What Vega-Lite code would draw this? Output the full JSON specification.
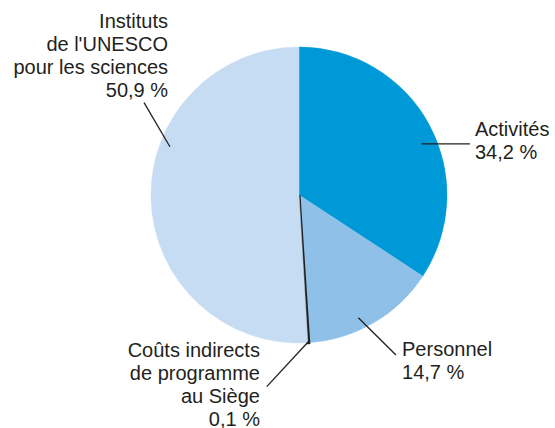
{
  "$schema": "https://vega.github.io/schema/vega-lite/v6.json",
  "width": 512,
  "height": 390,
  "autosize": {"type": "none"},
  "padding": {"left": 43, "top": 0, "right": 0, "bottom": 38},
  "background": "white",
  "config": {"view": {"stroke": null}},
  "datasets": {
    "parts": [
      {"categorie": "Activités", "pourcentage": 34.2, "ordre": 1},
      {"categorie": "Personnel", "pourcentage": 14.7, "ordre": 2},
      {"categorie": "Coûts indirects de programme au Siège", "pourcentage": 0.1, "ordre": 3},
      {"categorie": "Instituts de l'UNESCO pour les sciences", "pourcentage": 50.9, "ordre": 4}
    ],
    "etiquettes": [
      {"texte": "Instituts\nde l'UNESCO\npour les sciences\n50,9 %", "x": -0.885, "y": 1.128, "alignement": "right"},
      {"texte": "Activités\n34,2 %", "x": 1.189, "y": 0.399, "alignement": "left"},
      {"texte": "Personnel\n14,7 %", "x": 0.696, "y": -1.088, "alignement": "left"},
      {"texte": "Coûts indirects\nde programme\nau Siège\n0,1 %", "x": -0.264, "y": -1.093, "alignement": "right"}
    ],
    "traits": [
      {"x": -1.047, "y": 0.624, "x2": -0.872, "y2": 0.326},
      {"x": 0.829, "y": 0.345, "x2": 1.155, "y2": 0.345},
      {"x": 0.401, "y": -0.829, "x2": 0.655, "y2": -1.081},
      {"x": 0.074, "y": -0.980, "x2": -0.218, "y2": -1.295}
    ]
  },
  "layer": [
    {
      "data": {"name": "parts"},
      "mark": {"type": "arc", "outerRadius": 148},
      "encoding": {
        "theta": {"field": "pourcentage", "type": "quantitative", "stack": true},
        "order": {"field": "ordre", "type": "quantitative"},
        "color": {
          "field": "categorie",
          "type": "nominal",
          "legend": null,
          "scale": {
            "domain": ["Activités", "Personnel", "Coûts indirects de programme au Siège", "Instituts de l'UNESCO pour les sciences"],
            "range": ["#0099d8", "#8ec0e8", "#231f20", "#c5dcf2"]
          }
        },
        "stroke": {
          "field": "categorie",
          "type": "nominal",
          "legend": null,
          "scale": {
            "domain": ["Activités", "Personnel", "Coûts indirects de programme au Siège", "Instituts de l'UNESCO pour les sciences"],
            "range": ["#0099d8", "#8ec0e8", "#231f20", "#c5dcf2"]
          }
        },
        "strokeWidth": {
          "condition": {"test": "datum.ordre === 3", "value": 3},
          "value": 0.5
        }
      }
    },
    {
      "data": {"name": "traits"},
      "mark": {"type": "rule", "color": "#231f20", "strokeWidth": 1.3},
      "encoding": {
        "x": {"field": "x", "type": "quantitative", "scale": {"domain": [-1.7297, 1.7297], "zero": false, "nice": false}, "axis": null},
        "y": {"field": "y", "type": "quantitative", "scale": {"domain": [-1.3176, 1.3176], "zero": false, "nice": false}, "axis": null},
        "x2": {"field": "x2"},
        "y2": {"field": "y2"}
      }
    },
    {
      "data": {"name": "etiquettes"},
      "transform": [{"filter": "datum.alignement === 'right'"}],
      "mark": {"type": "text", "align": "right", "font": "Liberation Sans", "fontSize": 20, "lineHeight": 23, "lineBreak": "\n", "baseline": "alphabetic", "color": "#231f20"},
      "encoding": {
        "x": {"field": "x", "type": "quantitative", "scale": {"domain": [-1.7297, 1.7297], "zero": false, "nice": false}, "axis": null},
        "y": {"field": "y", "type": "quantitative", "scale": {"domain": [-1.3176, 1.3176], "zero": false, "nice": false}, "axis": null},
        "text": {"field": "texte"}
      }
    },
    {
      "data": {"name": "etiquettes"},
      "transform": [{"filter": "datum.alignement === 'left'"}],
      "mark": {"type": "text", "align": "left", "font": "Liberation Sans", "fontSize": 20, "lineHeight": 23, "lineBreak": "\n", "baseline": "alphabetic", "color": "#231f20"},
      "encoding": {
        "x": {"field": "x", "type": "quantitative", "scale": {"domain": [-1.7297, 1.7297], "zero": false, "nice": false}, "axis": null},
        "y": {"field": "y", "type": "quantitative", "scale": {"domain": [-1.3176, 1.3176], "zero": false, "nice": false}, "axis": null},
        "text": {"field": "texte"}
      }
    }
  ]
}
